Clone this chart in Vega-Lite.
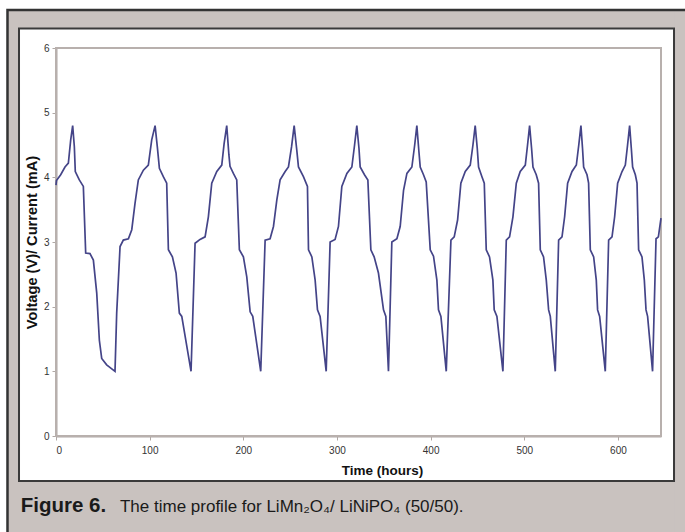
{
  "$schema": "https://vega.github.io/schema/vega-lite/v6.json",
  "width": 605,
  "height": 388,
  "autosize": "none",
  "padding": {"left": 56, "top": 48, "right": 24, "bottom": 96},
  "background": "#ffffff",
  "config": {
    "view": {"stroke": null},
    "font": "Liberation Sans",
    "axis": {
      "grid": false, "domainColor": "#b0a8a5", "domainWidth": 2, "tickColor": "#b0a8a5", "tickSize": 4,
      "labelFontSize": 10, "labelColor": "#333333", "labelFont": "Liberation Sans",
      "titleFontWeight": "bold", "titleColor": "#111111", "titleFont": "Liberation Sans"
    },
    "axisX": {"labelPadding": 5, "titlePadding": 8, "titleX": 326, "titleFontSize": 13.5},
    "axisY": {"labelPadding": 3, "titlePadding": 4, "titleFontSize": 14.6}
  },
  "datasets": {
    "profile": [
      {"t": 0, "v": 3.88}, {"t": 0.5, "v": 3.95}, {"t": 5, "v": 4.04}, {"t": 9.6, "v": 4.16}, {"t": 13.2, "v": 4.22}, {"t": 15.7, "v": 4.58}, {"t": 17.8, "v": 4.8}, {"t": 19.6, "v": 4.47}, {"t": 20.6, "v": 4.09}, {"t": 24.9, "v": 3.96}, {"t": 29.2, "v": 3.86}, {"t": 31.7, "v": 2.83}, {"t": 36.3, "v": 2.82}, {"t": 39.9, "v": 2.72}, {"t": 43.5, "v": 2.21}, {"t": 46.3, "v": 1.48}, {"t": 48.8, "v": 1.2}, {"t": 54.1, "v": 1.1}, {"t": 63, "v": 1.0},
      {"t": 64.8, "v": 1.9}, {"t": 68.4, "v": 2.93}, {"t": 71.9, "v": 3.03}, {"t": 77.3, "v": 3.05}, {"t": 80.9, "v": 3.19}, {"t": 84.4, "v": 3.6}, {"t": 87.9, "v": 3.96}, {"t": 93.3, "v": 4.11}, {"t": 98.6, "v": 4.19}, {"t": 102.2, "v": 4.58}, {"t": 105.8, "v": 4.8}, {"t": 108.2, "v": 4.47}, {"t": 110.4, "v": 4.14}, {"t": 114.6, "v": 4.01}, {"t": 118.2, "v": 3.91}, {"t": 120, "v": 2.88}, {"t": 124.3, "v": 2.77}, {"t": 128.2, "v": 2.52}, {"t": 131.7, "v": 1.9}, {"t": 134.3, "v": 1.85}, {"t": 144.2, "v": 1.0},
      {"t": 148.5, "v": 2.98}, {"t": 153.8, "v": 3.04}, {"t": 159.2, "v": 3.08}, {"t": 162.7, "v": 3.39}, {"t": 166.3, "v": 3.91}, {"t": 171.7, "v": 4.09}, {"t": 177, "v": 4.19}, {"t": 179.5, "v": 4.52}, {"t": 182.3, "v": 4.8}, {"t": 184.6, "v": 4.35}, {"t": 185.8, "v": 4.17}, {"t": 189.4, "v": 4.06}, {"t": 193, "v": 3.96}, {"t": 195.8, "v": 2.88}, {"t": 200.1, "v": 2.77}, {"t": 203.7, "v": 2.46}, {"t": 207.3, "v": 1.92}, {"t": 210.1, "v": 1.85}, {"t": 218.6, "v": 1.0},
      {"t": 223.3, "v": 3.03}, {"t": 228.6, "v": 3.05}, {"t": 232.2, "v": 3.24}, {"t": 235.8, "v": 3.65}, {"t": 239.3, "v": 3.96}, {"t": 244.7, "v": 4.09}, {"t": 248.2, "v": 4.16}, {"t": 251.5, "v": 4.47}, {"t": 254.3, "v": 4.8}, {"t": 257.1, "v": 4.42}, {"t": 258.9, "v": 4.16}, {"t": 264.2, "v": 4.01}, {"t": 268.5, "v": 3.86}, {"t": 269.6, "v": 2.88}, {"t": 273.2, "v": 2.77}, {"t": 276.7, "v": 2.41}, {"t": 279.2, "v": 1.95}, {"t": 282, "v": 1.85}, {"t": 288.5, "v": 1.0},
      {"t": 292.7, "v": 3.0}, {"t": 298, "v": 3.04}, {"t": 301.6, "v": 3.24}, {"t": 305.2, "v": 3.86}, {"t": 310.6, "v": 4.06}, {"t": 315.9, "v": 4.16}, {"t": 318.8, "v": 4.5}, {"t": 321.2, "v": 4.8}, {"t": 323.5, "v": 4.45}, {"t": 324.8, "v": 4.16}, {"t": 329.4, "v": 4.04}, {"t": 333, "v": 3.96}, {"t": 336.2, "v": 2.88}, {"t": 339.7, "v": 2.77}, {"t": 344.3, "v": 2.52}, {"t": 349.7, "v": 1.95}, {"t": 352.2, "v": 1.85}, {"t": 355, "v": 1.0},
      {"t": 358.6, "v": 3.0}, {"t": 364, "v": 3.05}, {"t": 367.5, "v": 3.24}, {"t": 371.1, "v": 3.8}, {"t": 374.7, "v": 4.06}, {"t": 380, "v": 4.16}, {"t": 383, "v": 4.5}, {"t": 385.3, "v": 4.8}, {"t": 387.5, "v": 4.4}, {"t": 388.9, "v": 4.16}, {"t": 392.4, "v": 4.04}, {"t": 395.3, "v": 3.93}, {"t": 399.6, "v": 2.88}, {"t": 403.1, "v": 2.78}, {"t": 406.7, "v": 2.41}, {"t": 408.4, "v": 1.95}, {"t": 411, "v": 1.85}, {"t": 416.7, "v": 1.0},
      {"t": 421.7, "v": 3.03}, {"t": 425.2, "v": 3.08}, {"t": 428.8, "v": 3.34}, {"t": 432.3, "v": 3.91}, {"t": 437, "v": 4.09}, {"t": 442.3, "v": 4.19}, {"t": 445.2, "v": 4.5}, {"t": 447.6, "v": 4.8}, {"t": 449.8, "v": 4.45}, {"t": 451.2, "v": 4.16}, {"t": 454.8, "v": 4.01}, {"t": 457.3, "v": 3.91}, {"t": 459.4, "v": 2.88}, {"t": 462.9, "v": 2.77}, {"t": 466.5, "v": 2.41}, {"t": 467.9, "v": 1.95}, {"t": 470.8, "v": 1.85}, {"t": 477.2, "v": 1.0},
      {"t": 480.8, "v": 3.03}, {"t": 484.3, "v": 3.08}, {"t": 487.9, "v": 3.39}, {"t": 491.5, "v": 3.91}, {"t": 495.7, "v": 4.09}, {"t": 501.1, "v": 4.19}, {"t": 503.5, "v": 4.5}, {"t": 505.7, "v": 4.8}, {"t": 507.8, "v": 4.45}, {"t": 509.3, "v": 4.16}, {"t": 512.8, "v": 4.04}, {"t": 515.3, "v": 3.91}, {"t": 517.1, "v": 2.88}, {"t": 520.6, "v": 2.77}, {"t": 523.5, "v": 2.41}, {"t": 526, "v": 1.95}, {"t": 527.8, "v": 1.85}, {"t": 533.1, "v": 1.0},
      {"t": 536.7, "v": 3.03}, {"t": 540.3, "v": 3.08}, {"t": 543.1, "v": 3.39}, {"t": 546.3, "v": 3.91}, {"t": 551, "v": 4.09}, {"t": 555.6, "v": 4.19}, {"t": 558.2, "v": 4.5}, {"t": 560.5, "v": 4.8}, {"t": 562.2, "v": 4.45}, {"t": 563.4, "v": 4.16}, {"t": 567, "v": 4.04}, {"t": 568.7, "v": 3.91}, {"t": 570.5, "v": 2.88}, {"t": 574.1, "v": 2.77}, {"t": 576.9, "v": 2.41}, {"t": 578.3, "v": 1.95}, {"t": 580.5, "v": 1.85}, {"t": 586.5, "v": 1.0},
      {"t": 590.1, "v": 3.03}, {"t": 593.7, "v": 3.08}, {"t": 596.5, "v": 3.39}, {"t": 599.7, "v": 3.91}, {"t": 604.4, "v": 4.09}, {"t": 607.9, "v": 4.19}, {"t": 610.3, "v": 4.5}, {"t": 612.5, "v": 4.8}, {"t": 614.3, "v": 4.45}, {"t": 615.7, "v": 4.16}, {"t": 618.6, "v": 4.04}, {"t": 620.4, "v": 3.91}, {"t": 622.1, "v": 2.88}, {"t": 625.7, "v": 2.77}, {"t": 628.2, "v": 2.41}, {"t": 630, "v": 1.95}, {"t": 631.7, "v": 1.85}, {"t": 637, "v": 1.0},
      {"t": 640.7, "v": 3.05}, {"t": 643.2, "v": 3.08}, {"t": 646, "v": 3.37}
    ],
    "frame": [
      {"x1": -51.8, "x2": 700, "y1": 6.587, "y2": 6.3},
      {"x1": -51.8, "x2": 700, "y1": -0.696, "y2": -1.9},
      {"x1": -51.8, "x2": -39.5, "y1": 6.587, "y2": -1.9},
      {"x1": 659.9, "x2": 700, "y1": 6.587, "y2": -1.9}
    ],
    "one": [{}]
  },
  "layer": [
    {
      "data": {"name": "frame"},
      "mark": {"type": "rect", "fill": "#c9c2bf", "strokeWidth": 0, "clip": false},
      "encoding": {
        "x": {"field": "x1", "type": "quantitative", "scale": {"domain": [0, 646], "nice": false, "zero": false}, "axis": {"title": "Time (hours)", "values": [0, 100, 200, 300, 400, 500, 600]}},
        "x2": {"field": "x2"},
        "y": {"field": "y1", "type": "quantitative", "scale": {"domain": [0, 6], "nice": false}, "axis": {"title": "Voltage (V)/ Current (mA)", "values": [0, 1, 2, 3, 4, 5, 6]}},
        "y2": {"field": "y2"}
      }
    },
    {
      "data": {"name": "one"},
      "mark": {"type": "rect", "filled": false, "stroke": "#333333", "strokeWidth": 2.5, "clip": false},
      "encoding": {
        "x": {"datum": -51.8, "type": "quantitative", "scale": {"domain": [0, 646], "nice": false, "zero": false}, "axis": {"title": "Time (hours)", "values": [0, 100, 200, 300, 400, 500, 600]}},
        "x2": {"datum": 700},
        "y": {"datum": 6.587, "type": "quantitative", "scale": {"domain": [0, 6], "nice": false}, "axis": {"title": "Voltage (V)/ Current (mA)", "values": [0, 1, 2, 3, 4, 5, 6]}},
        "y2": {"datum": -1.9}
      }
    },
    {
      "data": {"name": "one"},
      "mark": {"type": "rect", "filled": false, "stroke": "#3a3a3a", "strokeWidth": 2, "clip": false},
      "encoding": {
        "x": {"datum": -39.5, "type": "quantitative", "scale": {"domain": [0, 646], "nice": false, "zero": false}, "axis": {"title": "Time (hours)", "values": [0, 100, 200, 300, 400, 500, 600]}},
        "x2": {"datum": 659.9},
        "y": {"datum": 6.3, "type": "quantitative", "scale": {"domain": [0, 6], "nice": false}, "axis": {"title": "Voltage (V)/ Current (mA)", "values": [0, 1, 2, 3, 4, 5, 6]}},
        "y2": {"datum": -0.696}
      }
    },
    {
      "data": {"name": "one"},
      "mark": {"type": "rect", "filled": false, "stroke": "#b8b0ad", "strokeWidth": 2, "clip": false},
      "encoding": {
        "x": {"datum": 0, "type": "quantitative", "scale": {"domain": [0, 646], "nice": false, "zero": false}, "axis": {"title": "Time (hours)", "values": [0, 100, 200, 300, 400, 500, 600]}},
        "x2": {"datum": 646},
        "y": {"datum": 6, "type": "quantitative", "scale": {"domain": [0, 6], "nice": false}, "axis": {"title": "Voltage (V)/ Current (mA)", "values": [0, 1, 2, 3, 4, 5, 6]}},
        "y2": {"datum": 0}
      }
    },
    {
      "data": {"name": "profile"},
      "mark": {"type": "line", "color": "#444488", "strokeWidth": 1.7},
      "encoding": {
        "x": {"field": "t", "type": "quantitative", "scale": {"domain": [0, 646], "nice": false, "zero": false}, "axis": {"title": "Time (hours)", "values": [0, 100, 200, 300, 400, 500, 600]}},
        "y": {"field": "v", "type": "quantitative", "scale": {"domain": [0, 6], "nice": false}, "axis": {"title": "Voltage (V)/ Current (mA)", "values": [0, 1, 2, 3, 4, 5, 6]}}
      }
    },
    {
      "data": {"name": "one"},
      "mark": {"type": "text", "text": "Figure 6.", "align": "left", "baseline": "alphabetic", "fontSize": 20.5, "fontWeight": "bold", "font": "Liberation Sans", "color": "#1a1a1a", "clip": false},
      "encoding": {
        "x": {"datum": -37.7, "type": "quantitative", "scale": {"domain": [0, 646], "nice": false, "zero": false}, "axis": {"title": "Time (hours)", "values": [0, 100, 200, 300, 400, 500, 600]}},
        "y": {"datum": -1.175, "type": "quantitative", "scale": {"domain": [0, 6], "nice": false}, "axis": {"title": "Voltage (V)/ Current (mA)", "values": [0, 1, 2, 3, 4, 5, 6]}}
      }
    },
    {
      "data": {"name": "one"},
      "mark": {"type": "text", "text": "The time profile for LiMn₂O₄/ LiNiPO₄ (50/50).", "align": "left", "baseline": "alphabetic", "fontSize": 17, "font": "Liberation Sans", "color": "#1a1a1a", "clip": false},
      "encoding": {
        "x": {"datum": 68.3, "type": "quantitative", "scale": {"domain": [0, 646], "nice": false, "zero": false}, "axis": {"title": "Time (hours)", "values": [0, 100, 200, 300, 400, 500, 600]}},
        "y": {"datum": -1.175, "type": "quantitative", "scale": {"domain": [0, 6], "nice": false}, "axis": {"title": "Voltage (V)/ Current (mA)", "values": [0, 1, 2, 3, 4, 5, 6]}}
      }
    }
  ]
}
